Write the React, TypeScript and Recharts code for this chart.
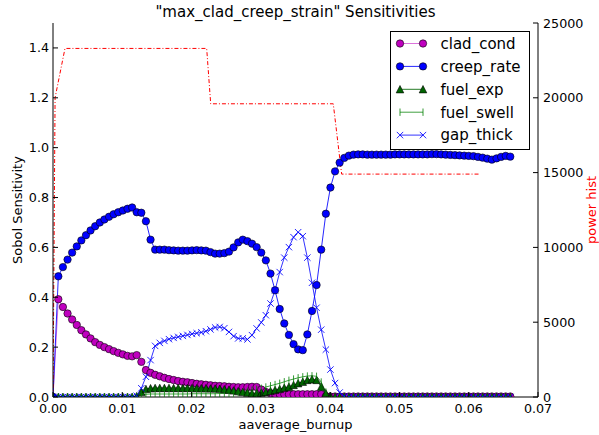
import { ComposedChart, Line, XAxis, YAxis, Legend } from "recharts";

const FONT = "'DejaVu Sans', sans-serif";

// aaverage_burnup sample points (first one is the origin)
const burnup = [
  0, 0.00077, 0.00143, 0.0021, 0.00276, 0.00343, 0.00409, 0.00476, 0.00542, 0.00609,
  0.00676, 0.00742, 0.00809, 0.00875, 0.00942, 0.01008, 0.01075, 0.01142, 0.01208, 0.01275,
  0.01341, 0.01408, 0.01474, 0.01541, 0.01608, 0.01674, 0.01741, 0.01807, 0.01874, 0.0194,
  0.02007, 0.02074, 0.0214, 0.02207, 0.02273, 0.0234, 0.02406, 0.02473, 0.0254, 0.02606,
  0.02673, 0.02739, 0.02806, 0.02872, 0.02939, 0.03006, 0.03072, 0.03139, 0.03205, 0.03272,
  0.03338, 0.03405, 0.03472, 0.03538, 0.03605, 0.03671, 0.03738, 0.03804, 0.03871, 0.03938,
  0.04004, 0.04071, 0.04137, 0.04204, 0.0427, 0.04337, 0.04404, 0.0447, 0.04537, 0.04603,
  0.0467, 0.04736, 0.04803, 0.0487, 0.04936, 0.05003, 0.05069, 0.05136, 0.05202, 0.05269,
  0.05336, 0.05402, 0.05469, 0.05535, 0.05602, 0.05668, 0.05735, 0.05802, 0.05868, 0.05935,
  0.06001, 0.06068, 0.06134, 0.06201, 0.06268, 0.06334, 0.06401, 0.06467, 0.06534, 0.066,
];

const cladCond = [
  0, 0.392, 0.361, 0.335, 0.311, 0.289, 0.268, 0.251, 0.235, 0.22,
  0.209, 0.2, 0.192, 0.184, 0.177, 0.171, 0.165, 0.163, 0.168, 0.141,
  0.108, 0.097, 0.089, 0.083, 0.077, 0.072, 0.068, 0.064, 0.061, 0.059,
  0.056, 0.053, 0.051, 0.049, 0.047, 0.045, 0.044, 0.043, 0.041, 0.04,
  0.039, 0.039, 0.04, 0.041, 0.04, 0.03, 0.02, 0.015, 0.013, 0.012,
  0.011, 0.011, 0.011, 0.011, 0.011, 0.011, 0.011, 0.011, 0.011, 0.003,
  0.002, 0.002, 0.002, 0.002, 0.002, 0.002, 0.002, 0.002, 0.002, 0.002,
  0.002, 0.002, 0.002, 0.002, 0.002, 0.002, 0.002, 0.002, 0.002, 0.002,
  0.002, 0.002, 0.002, 0.002, 0.002, 0.002, 0.002, 0.002, 0.002, 0.002,
  0.002, 0.002, 0.002, 0.002, 0.002, 0.002, 0.002, 0.002, 0.002, 0.002,
];

const creepRate = [
  0, 0.484, 0.521, 0.551, 0.579, 0.604, 0.628, 0.649, 0.668, 0.685,
  0.7, 0.712, 0.723, 0.733, 0.741, 0.748, 0.755, 0.76, 0.741, 0.739,
  0.705, 0.631, 0.591, 0.591, 0.591, 0.589, 0.588, 0.587, 0.587, 0.587,
  0.588, 0.589, 0.588, 0.587, 0.581, 0.575, 0.575, 0.577, 0.583, 0.6,
  0.62, 0.631, 0.625, 0.615, 0.601, 0.579, 0.548, 0.495, 0.428, 0.353,
  0.295, 0.249, 0.212, 0.191, 0.188, 0.251, 0.345, 0.449, 0.591, 0.735,
  0.84, 0.905, 0.94, 0.959, 0.968, 0.972, 0.973, 0.973, 0.972, 0.972,
  0.972, 0.972, 0.972, 0.972, 0.973, 0.973, 0.973, 0.973, 0.973, 0.973,
  0.973, 0.973, 0.974, 0.974, 0.973, 0.972, 0.971, 0.97, 0.969, 0.968,
  0.967, 0.966, 0.963, 0.96, 0.956, 0.952, 0.957, 0.963, 0.967, 0.964,
];

const fuelExp = [
  0, 0, 0, 0, 0, 0, 0, 0, 0, 0,
  0, 0, 0, 0, 0, 0, 0, 0, 0.003, 0.02,
  0.032, 0.035, 0.036, 0.036, 0.036, 0.036, 0.036, 0.036, 0.036, 0.036,
  0.036, 0.035, 0.035, 0.035, 0.034, 0.034, 0.033, 0.031, 0.029, 0.026,
  0.023, 0.02, 0.017, 0.015, 0.015, 0.017, 0.02, 0.024, 0.028, 0.032,
  0.037, 0.041, 0.048, 0.055, 0.061, 0.068, 0.071, 0.068, 0.041, 0.015,
  0.003, 0, 0, 0, 0, 0, 0, 0, 0, 0,
  0, 0, 0, 0, 0, 0, 0, 0, 0, 0,
  0, 0, 0, 0, 0, 0, 0, 0, 0, 0,
  0, 0, 0, 0, 0, 0, 0, 0, 0, 0,
];

const fuelSwell = [
  0, 0, 0, 0, 0, 0, 0, 0, 0, 0,
  0, 0, 0, 0, 0, 0, 0, 0, 0.002, 0.008,
  0.011, 0.012, 0.012, 0.012, 0.012, 0.012, 0.012, 0.012, 0.012, 0.012,
  0.013, 0.013, 0.013, 0.013, 0.013, 0.013, 0.014, 0.014, 0.015, 0.016,
  0.018, 0.02, 0.023, 0.027, 0.031, 0.035, 0.04, 0.045, 0.05, 0.055,
  0.061, 0.067, 0.072, 0.077, 0.081, 0.084, 0.085, 0.083, 0.06, 0.02,
  0.004, 0, 0, 0, 0, 0, 0, 0, 0, 0,
  0, 0, 0, 0, 0, 0, 0, 0, 0, 0,
  0, 0, 0, 0, 0, 0, 0, 0, 0, 0,
  0, 0, 0, 0, 0, 0, 0, 0, 0, 0,
];

const gapThick = [
  0, 0, 0, 0, 0, 0, 0, 0, 0, 0,
  0, 0, 0, 0, 0, 0, 0, 0, 0.005, 0.035,
  0.081, 0.148, 0.205, 0.217, 0.225, 0.232, 0.237, 0.241, 0.245, 0.249,
  0.253, 0.256, 0.259, 0.264, 0.271, 0.279, 0.281, 0.276, 0.261, 0.244,
  0.235, 0.235, 0.231, 0.248, 0.275, 0.299, 0.328, 0.375, 0.428, 0.501,
  0.559, 0.601, 0.641, 0.661, 0.645, 0.559, 0.458, 0.358, 0.27, 0.19,
  0.11, 0.056, 0.018, 0.003, 0, 0, 0, 0, 0, 0,
  0, 0, 0, 0, 0, 0, 0, 0, 0, 0,
  0, 0, 0, 0, 0, 0, 0, 0, 0, 0,
  0, 0, 0, 0, 0, 0, 0, 0, 0, 0,
];

// power history (right axis)
const powerBurnup = [0, 0.0003, 0.00173, 0.02218, 0.02276, 0.04045, 0.04166, 0.06162];
const powerHist = [0, 20000, 23300, 23300, 19600, 19600, 14900, 14900];

const xTicks = [0, 0.01, 0.02, 0.03, 0.04, 0.05, 0.06, 0.07];
const leftTicks = [0, 0.2, 0.4, 0.6, 0.8, 1.0, 1.2, 1.4];
const rightTicks = [0, 5000, 10000, 15000, 20000, 25000];

type Shape = "circle" | "triangle" | "vline" | "x";

const SERIES: { key: string; values: number[]; color: string; shape: Shape; lineOpacity: number; markerOpacity: number }[] = [
  { key: "clad_cond", values: cladCond, color: "#bf00bf", shape: "circle", lineOpacity: 0.55, markerOpacity: 1 },
  { key: "creep_rate", values: creepRate, color: "#0000ff", shape: "circle", lineOpacity: 0.85, markerOpacity: 1 },
  { key: "fuel_exp", values: fuelExp, color: "#006400", shape: "triangle", lineOpacity: 0.85, markerOpacity: 1 },
  { key: "fuel_swell", values: fuelSwell, color: "#008000", shape: "vline", lineOpacity: 0.75, markerOpacity: 0.8 },
  { key: "gap_thick", values: gapThick, color: "#0000ff", shape: "x", lineOpacity: 0.8, markerOpacity: 0.85 },
];

const rows = burnup.map((b, i) => {
  const row: Record<string, number> = { burnup: b };
  SERIES.forEach((s) => (row[s.key] = s.values[i]));
  return row;
});

const powerRows = powerBurnup.map((b, i) => ({ burnup: b, power: powerHist[i] }));

function Marker({ shape, color, cx, cy, opacity }: { shape: Shape; color: string; cx: number; cy: number; opacity: number }) {
  if (shape === "circle")
    return <circle cx={cx} cy={cy} r={3.7} fill={color} stroke="#000" strokeWidth={0.6} />;
  if (shape === "triangle")
    return (
      <polygon
        points={`${cx},${cy - 3.8} ${cx - 3.8},${cy + 3.6} ${cx + 3.8},${cy + 3.6}`}
        fill={color}
        stroke="#000"
        strokeWidth={0.6}
      />
    );
  if (shape === "x")
    return (
      <path
        d={`M${cx - 3.2},${cy - 3.2}L${cx + 3.2},${cy + 3.2}M${cx - 3.2},${cy + 3.2}L${cx + 3.2},${cy - 3.2}`}
        stroke={color}
        strokeOpacity={opacity}
        strokeWidth={1}
        fill="none"
      />
    );
  return <line x1={cx} x2={cx} y1={cy - 3.7} y2={cy + 3.7} stroke={color} strokeOpacity={opacity} strokeWidth={1} />;
}

const makeDot = (shape: Shape, color: string, opacity: number) => (p: any) => {
  const { cx, cy, index } = p;
  if (cx == null || cy == null) return <g key={`e-${index}`} />;
  return (
    <g key={`d-${index}`}>
      <Marker shape={shape} color={color} cx={cx} cy={cy} opacity={opacity} />
    </g>
  );
};

const tickText = { fontFamily: FONT, fontSize: 12.7, fill: "#000" };

const BottomTick = (p: any) => (
  <g>
    <line x1={p.x} x2={p.x} y1={p.y} y2={p.y - 5} stroke="#000" />
    <text x={p.x} y={p.y + 15.5} textAnchor="middle" {...tickText}>
      {Number(p.payload.value).toFixed(2)}
    </text>
  </g>
);

const TopTick = (p: any) => <line x1={p.x} x2={p.x} y1={p.y} y2={p.y + 5} stroke="#000" />;

const LeftTick = (p: any) => (
  <g>
    <line x1={p.x} x2={p.x + 5} y1={p.y} y2={p.y} stroke="#000" />
    <text x={p.x - 4} y={p.y + 4.5} textAnchor="end" {...tickText}>
      {Number(p.payload.value).toFixed(1)}
    </text>
  </g>
);

const RightTick = (p: any) => (
  <g>
    <line x1={p.x} x2={p.x - 5} y1={p.y} y2={p.y} stroke="#000" />
    <text x={p.x + 5} y={p.y + 4.5} textAnchor="start" {...tickText}>
      {String(p.payload.value)}
    </text>
  </g>
);

const renderLegend = () => (
  <svg width={140} height={120} style={{ display: "block" }}>
    <rect x={0.5} y={0.5} width={139} height={118} fill="#fff" stroke="#000" strokeWidth={1} />
    {SERIES.map((s, i) => {
      const y = 12.5 + i * 22.9;
      return (
        <g key={s.key}>
          <line x1={10} x2={33} y1={y} y2={y} stroke={s.color} strokeOpacity={s.lineOpacity} strokeWidth={1} />
          <Marker shape={s.shape} color={s.color} cx={10} cy={y} opacity={s.markerOpacity} />
          <Marker shape={s.shape} color={s.color} cx={33} cy={y} opacity={s.markerOpacity} />
          <text x={50.5} y={y + 5.3} fontFamily={FONT} fontSize={15} fill="#000">
            {s.key}
          </text>
        </g>
      );
    })}
  </svg>
);

export default function App() {
  return (
    <div style={{ position: "absolute", left: 0, top: 0, width: 599, height: 435, background: "#fff" }}>
      <ComposedChart width={599} height={435} data={rows} margin={{ top: 23, right: 0, bottom: 0, left: 0 }}>
        <XAxis
          xAxisId="b"
          dataKey="burnup"
          type="number"
          domain={[0, 0.07]}
          ticks={xTicks}
          interval={0}
          allowDataOverflow
          height={38}
          tickSize={0}
          tickMargin={0}
          tickLine={false}
          tick={BottomTick}
          axisLine={{ stroke: "#000" }}
        />
        <XAxis
          xAxisId="t"
          orientation="top"
          dataKey="burnup"
          type="number"
          domain={[0, 0.07]}
          ticks={xTicks}
          interval={0}
          allowDataOverflow
          height={0}
          tickSize={0}
          tickMargin={0}
          tickLine={false}
          tick={TopTick}
          axisLine={{ stroke: "#000" }}
        />
        <YAxis
          yAxisId="l"
          type="number"
          domain={[0, 1.5]}
          ticks={leftTicks}
          interval={0}
          allowDataOverflow
          width={53}
          tickSize={0}
          tickMargin={0}
          tickLine={false}
          tick={LeftTick}
          axisLine={{ stroke: "#000" }}
        />
        <YAxis
          yAxisId="r"
          orientation="right"
          type="number"
          domain={[0, 25000]}
          ticks={rightTicks}
          interval={0}
          allowDataOverflow
          width={61}
          tickSize={0}
          tickMargin={0}
          tickLine={false}
          tick={RightTick}
          axisLine={{ stroke: "#000" }}
        />
        {SERIES.map((s) => (
          <Line
            key={s.key}
            xAxisId="b"
            yAxisId="l"
            dataKey={s.key}
            type="linear"
            stroke={s.color}
            strokeOpacity={s.lineOpacity}
            strokeWidth={1}
            dot={makeDot(s.shape, s.color, s.markerOpacity)}
            activeDot={false}
            isAnimationActive={false}
          />
        ))}
        <Line
          xAxisId="t"
          yAxisId="r"
          data={powerRows}
          dataKey="power"
          type="linear"
          stroke="#ff0000"
          strokeWidth={1}
          strokeDasharray="4 2 1 2"
          dot={false}
          activeDot={false}
          isAnimationActive={false}
        />
        <Legend
          layout="horizontal"
          verticalAlign="middle"
          align="center"
          wrapperStyle={{ left: 390, top: 31, width: 140, height: 120 }}
          content={renderLegend}
        />
      </ComposedChart>
      <svg
        width={599}
        height={435}
        style={{ position: "absolute", left: 0, top: 0, pointerEvents: "none" }}
      >
        <text x={295.5} y={16.5} textAnchor="middle" fontFamily={FONT} fontSize={15} fill="#000">
          "max_clad_creep_strain" Sensitivities
        </text>
        <text x={295.5} y={428.5} textAnchor="middle" fontFamily={FONT} fontSize={13} fill="#000">
          aaverage_burnup
        </text>
        <text x={21.5} y={210} transform="rotate(-90 21.5 210)" textAnchor="middle" fontFamily={FONT} fontSize={13} fill="#000">
          Sobol Sensitivity
        </text>
        <text x={595.5} y={210} transform="rotate(-90 595.5 210)" textAnchor="middle" fontFamily={FONT} fontSize={13} fill="#ff0000">
          power hist
        </text>
      </svg>
    </div>
  );
}
